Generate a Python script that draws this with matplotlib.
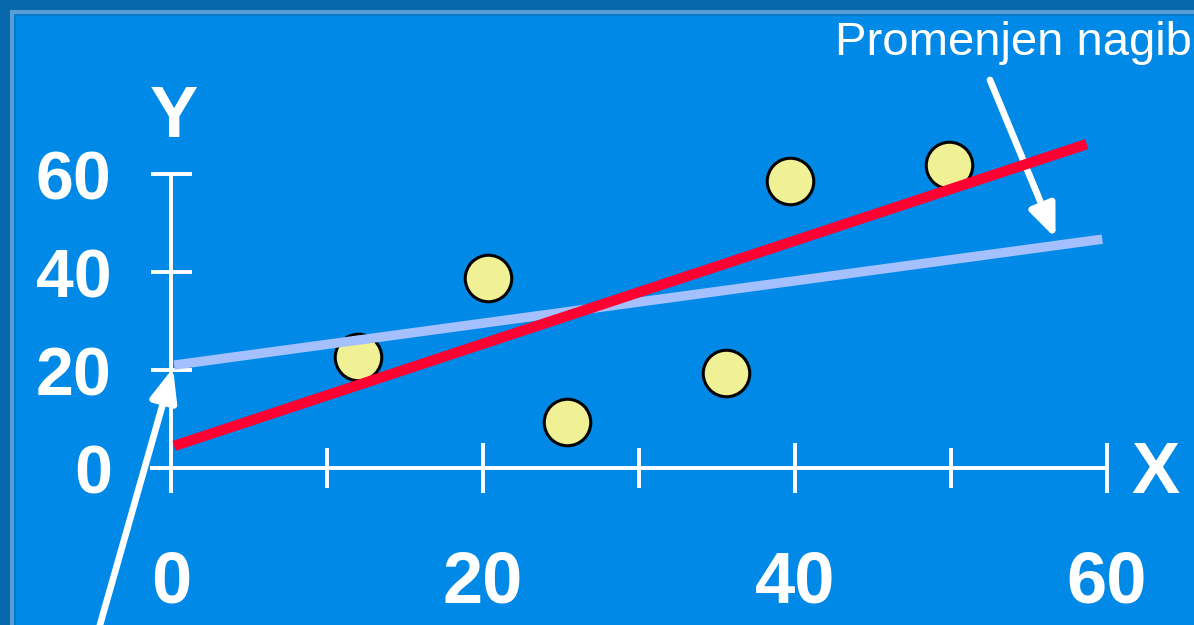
import matplotlib.pyplot as plt
from matplotlib.patches import Rectangle

# data
pts_x = [12.0, 20.3, 25.4, 35.6, 39.7, 49.9]
pts_y = [22.7, 38.8, 9.4, 19.4, 58.6, 61.8]
red_x = [0.2, 58.7]
red_y = [4.5, 66.1]
blue_x = [0.2, 59.7]
blue_y = [21.0, 46.7]
xticks = [0, 20, 40, 60]
xminor = [10, 30, 50]
yticks = [20, 40, 60]
ylabels = ['0', '20', '40', '60']
note = 'Promenjen nagib'

W, H = 1194, 625
plt.rcParams['font.family'] = ['Liberation Sans', 'DejaVu Sans']

fig = plt.figure(figsize=(W / 100, H / 100), dpi=100)
fig.patch.set_facecolor('#0868ac')

def frect(px, py, color):
    fig.patches.append(Rectangle((px / W, 0), 1 - px / W, 1 - py / H,
                                 transform=fig.transFigure, facecolor=color,
                                 edgecolor='none', zorder=-10))

frect(10, 10, '#5a9ed6')
frect(14, 14, '#0a78c8')
frect(16, 16, '#0089e6')

# axes so that x 0..60 -> px 171..1107 and y 0..60 -> px 468..174
ax = fig.add_axes([171 / W, 1 - 468 / H, 936 / W, 294 / H])
ax.set_xlim(0, 60)
ax.set_ylim(0, 60)
ax.axis('off')

white = 'white'
ax.plot([-1.35, 60.06], [0, 0], color=white, lw=2.8, clip_on=False, solid_capstyle='butt')
ax.plot([0, 0], [-5.1, 60], color=white, lw=2.8, clip_on=False, solid_capstyle='butt')
for t in yticks:
    ax.plot([-1.3, 1.35], [t, t], color=white, lw=2.8, clip_on=False, solid_capstyle='butt')
for t in xticks[1:]:
    ax.plot([t, t], [-5.1, 5.1], color=white, lw=2.8, clip_on=False, solid_capstyle='butt')
for t in xminor:
    ax.plot([t, t], [-4.1, 4.1], color=white, lw=2.8, clip_on=False, solid_capstyle='butt')

ax.plot(pts_x, pts_y, 'o', ms=33.5, mfc='#f0f094', mec='black', mew=2.2, zorder=3, clip_on=False)
ax.plot(blue_x, blue_y, color='#a4c0ff', lw=6.8, zorder=4, clip_on=False, solid_capstyle='butt')
ax.plot(red_x, red_y, color='#ff0033', lw=7.5, zorder=5, clip_on=False, solid_capstyle='butt')

for t in xticks:
    ax.text(t, -23.5, str(t), color=white, fontsize=52, fontweight='bold',
            ha='center', va='center')
for i, lab in enumerate(ylabels):
    ax.text(-3.8, i * 20 - 1.5, lab, color=white, fontsize=49, fontweight='bold',
            ha='right', va='center')
ax.text(0.2, 71.5, 'Y', color=white, fontsize=52, fontweight='bold', ha='center', va='center')
ax.text(63.1, -1.2, 'X', color=white, fontsize=52, fontweight='bold', ha='center', va='center')

fig.text(835 / W, 1 - 55 / H, note, color=white, fontsize=34, ha='left', va='baseline')

arrow = dict(arrowstyle='-|>,head_length=0.97,head_width=0.4', color=white, lw=4.8,
             shrinkA=0, shrinkB=0, mutation_scale=20)
ax.annotate('', xy=(56.7, 46.9), xytext=(52.5, 79.2), arrowprops=arrow,
            annotation_clip=False)
ax.annotate('', xy=(0.13, 20.4), xytext=(-4.9, -35.9), arrowprops=arrow,
            annotation_clip=False)

fig.savefig('out.png', dpi=100, facecolor=fig.get_facecolor())
